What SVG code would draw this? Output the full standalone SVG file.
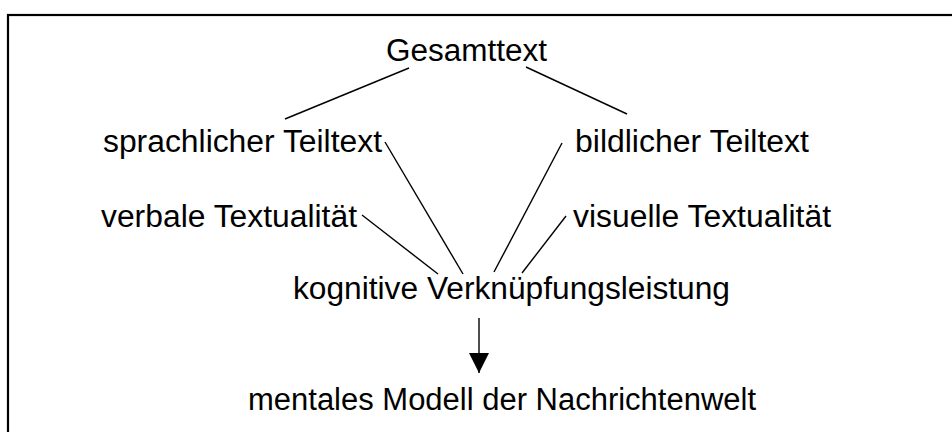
<svg xmlns="http://www.w3.org/2000/svg" width="952" height="432" viewBox="0 0 952 432">
  <style>
    .lbl { font-family: "Liberation Sans", Arial, sans-serif; font-size: 31px; fill: #000; }
    .edge { stroke: #000; stroke-width: 1.4; fill: none; }
    .frame { stroke: #000; stroke-width: 2.2; fill: #fff; }
  </style>
  <defs>
    <marker id="arrowhead" markerUnits="userSpaceOnUse" markerWidth="20" markerHeight="27" refX="20" refY="10" orient="auto">
      <path d="M0,0 L20,10 L0,20 Z" fill="#000"/>
    </marker>
  </defs>

  <!-- outer frame (runs past the right and bottom edges) -->
  <rect class="frame" x="8" y="15" width="1000" height="500"/>

  <g id="connectors">
    <line class="edge" x1="409" y1="68" x2="285" y2="119"/>
    <line class="edge" x1="526" y1="67" x2="627" y2="114"/>
    <line class="edge" x1="385" y1="142" x2="463" y2="274"/>
    <line class="edge" x1="562" y1="143" x2="494" y2="272"/>
    <line class="edge" x1="362" y1="215" x2="438" y2="274"/>
    <line class="edge" x1="566" y1="216" x2="522" y2="273"/>
    <line class="edge" x1="479" y1="318" x2="479" y2="373" marker-end="url(#arrowhead)"/>
  </g>

  <g id="gesamttext"><text class="lbl" x="386" y="61" textLength="161" lengthAdjust="spacingAndGlyphs">Gesamttext</text></g>
  <g id="sprachlicher-teiltext"><text class="lbl" x="103" y="152" textLength="279" lengthAdjust="spacingAndGlyphs">sprachlicher Teiltext</text></g>
  <g id="bildlicher-teiltext"><text class="lbl" x="575" y="152" textLength="234" lengthAdjust="spacingAndGlyphs">bildlicher Teiltext</text></g>
  <g id="verbale-textualitaet"><text class="lbl" x="101" y="227" textLength="256" lengthAdjust="spacingAndGlyphs">verbale Textualität</text></g>
  <g id="visuelle-textualitaet"><text class="lbl" x="573" y="227" textLength="258" lengthAdjust="spacingAndGlyphs">visuelle Textualität</text></g>
  <g id="verknuepfungsleistung"><text class="lbl" x="293" y="299" textLength="437" lengthAdjust="spacingAndGlyphs">kognitive Verknüpfungsleistung</text></g>
  <g id="mentales-modell"><text class="lbl" x="248" y="410" textLength="508" lengthAdjust="spacingAndGlyphs">mentales Modell der Nachrichtenwelt</text></g>
</svg>
